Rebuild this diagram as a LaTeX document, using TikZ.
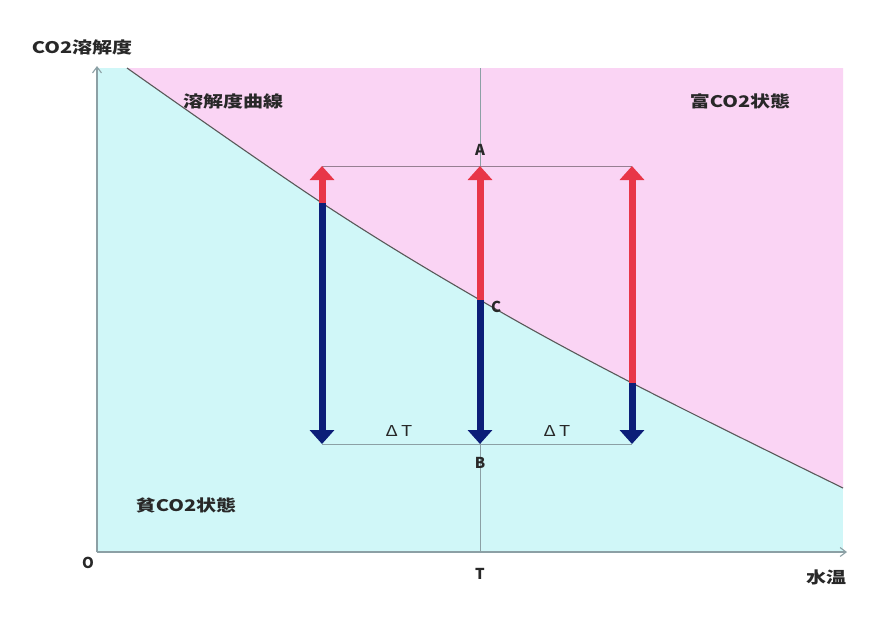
\documentclass[tikz,border=0pt]{standalone}
\usepackage{fontspec}
\setmainfont{Noto Sans CJK JP}
\usetikzlibrary{arrows.meta}
\definecolor{pinkbg}{RGB}{250,212,244}
\definecolor{cyanbg}{RGB}{208,247,248}
\definecolor{redarr}{RGB}{232,54,72}
\definecolor{bluearr}{RGB}{12,30,120}
\definecolor{axisgray}{RGB}{140,160,165}
\definecolor{txt}{RGB}{40,40,40}
\newcommand\widetxt[1]{\scalebox{1.25}[1]{#1}}
\begin{document}
\begin{tikzpicture}[x=1pt,y=-1pt,
  lbl/.style={text=txt,font=\fontsize{16}{16}\selectfont\bfseries,inner sep=0pt},
  sml/.style={text=txt,font=\fontsize{15}{15}\selectfont\bfseries,inner sep=0pt},
  thin/.style={draw=axisgray,line width=0.8pt},
  axis/.style={draw=axisgray,line width=1.1pt,-{Straight Barb[length=6pt,width=9pt]}},
  uparr/.style={draw=redarr,line width=7pt,-{Triangle[width=24pt,length=14pt]}},
  dnarr/.style={draw=bluearr,line width=7pt,-{Triangle[width=24pt,length=14pt]}}]
\useasboundingbox (0,0) rectangle (876,625);
\fill[white] (0,0) rectangle (876,625);
% background regions
\fill[cyanbg] (98,68) rectangle (843,552);
\fill[pinkbg] plot[smooth,tension=0.6] coordinates {(127,68) (322,203) (480,300) (632,383) (843,488)} -- (843,68) -- cycle;
% curve
\draw[draw=black!65,line width=1.1pt] plot[smooth,tension=0.6] coordinates {(127,68) (322,203) (480,300) (632,383) (843,488)};
% coordinates
\coordinate (O) at (97,552);
\coordinate (Ytop) at (97,66);
\coordinate (Xend) at (847,552);
\coordinate (Ttop) at (480,68);
\coordinate (Tbot) at (480,552);
\coordinate (c1) at (322,203);
\coordinate (c2) at (480,300);
\coordinate (c3) at (632,383);
\coordinate (a1) at (322,166);
\coordinate (a2) at (480,166);
\coordinate (a3) at (632,166);
\coordinate (b1) at (322,444);
\coordinate (b2) at (480,444);
\coordinate (b3) at (632,444);
% guide lines
\draw[thin] (Ttop) -- (Tbot);
\draw[draw=black!40!pinkbg,line width=0.9pt] (a1) -- (a3);
\draw[thin] (b1) -- (b3);
% axes
\draw[axis] (O) -- (Ytop);
\draw[axis] (O) -- (Xend);
% arrows
\draw[uparr] (c1) -- (a1);
\draw[uparr] (c2) -- (a2);
\draw[uparr] (c3) -- (a3);
\draw[dnarr] (c1) -- (b1);
\draw[dnarr] (c2) -- (b2);
\draw[dnarr] (c3) -- (b3);
% labels
\node[lbl] (ylab) at (82,47) {\widetxt{CO2溶解度}};
\node[lbl] (curvelab) at (233,101) {\widetxt{溶解度曲線}};
\node[lbl] (rich) at (740,101) {\widetxt{富CO2状態}};
\node[lbl] (poor) at (186,505) {\widetxt{貧CO2状態}};
\node[lbl] (xlab) at (826,577) {\widetxt{水温}};
\node[sml] (Alab) at (480,150) {A};
\node[sml] (Blab) at (480,463) {B};
\node[sml] (Clab) at (496,307) {C};
\node[sml,font=\fontsize{15}{15}\selectfont] (dT1) at (399,431) {\widetxt{Δ\,T}};
\node[sml,font=\fontsize{15}{15}\selectfont] (dT2) at (557,431) {\widetxt{Δ\,T}};
\node[sml] (Tlab) at (480,574) {T};
\node[sml] (Olab) at (88,563) {O};
\end{tikzpicture}
\end{document}
